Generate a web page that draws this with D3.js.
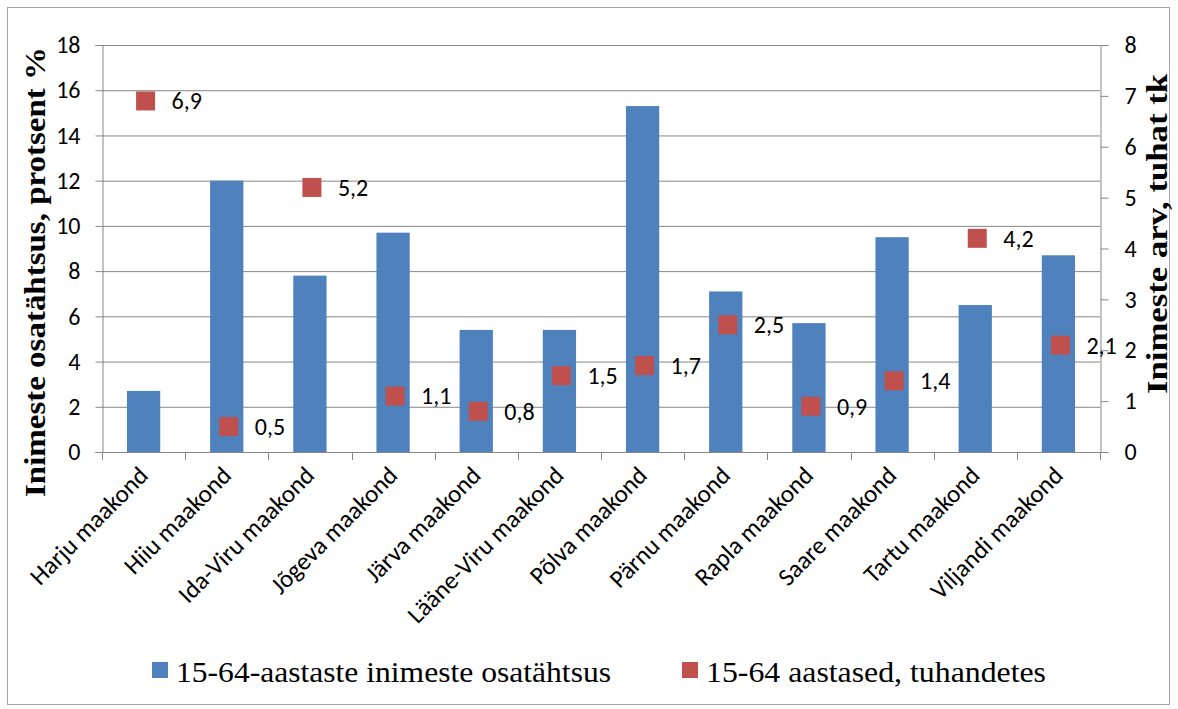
<!DOCTYPE html>
<html><head><meta charset="utf-8">
<script src="https://cdn.jsdelivr.net/npm/d3@7"></script>
<style>body{margin:0;background:#fff}</style>
</head><body>
<svg id="c" width="1178" height="709"></svg>
<script>
const categories = ["Harju maakond","Hiiu maakond","Ida-Viru maakond","Jõgeva maakond","Järva maakond","Lääne-Viru maakond","Põlva maakond","Pärnu maakond","Rapla maakond","Saare maakond","Tartu maakond","Viljandi maakond"];
const shareValues = [2.7,12.0,7.8,9.7,5.4,5.4,15.3,7.1,5.7,9.5,6.5,8.7];
const countValues = [6.9,0.5,5.2,1.1,0.8,1.5,1.7,2.5,0.9,1.4,4.2,2.1];
const leftTicks = [0,2,4,6,8,10,12,14,16,18];
const rightTicks = [0,1,2,3,4,5,6,7,8];
const seriesNames = ["15-64-aastaste inimeste osatähtsus","15-64 aastased, tuhandetes"];
const leftTitle = "Inimeste osatähtsus, protsent %";
const rightTitle = "Inimeste arv, tuhat tk";

const svg = d3.select("#c");
const L = 102, R = 1100, T = 45, B = 452;
const tickFont = "Carlito, Calibri, 'Open Sans', sans-serif";
const serif = "'Liberation Serif', 'Times New Roman', serif";
const gridCol = "#878787";
const fs = 24;

svg.append("rect").attr("x",7.5).attr("y",7.5).attr("width",1162).attr("height",697)
  .attr("fill","#fff").attr("stroke","#a6a6a6").attr("stroke-width",1);

const x = d3.scaleBand().domain(categories).range([L,R]).paddingInner(0.6).paddingOuter(0.3);
const xb = d3.scaleBand().domain(categories).range([L,R]);
const yL = d3.scaleLinear().domain([0,18]).range([B,T]);
const yR = d3.scaleLinear().domain([0,8]).range([B,T]);

// gridlines
svg.append("g").selectAll("line").data(leftTicks.filter(d=>d>0)).join("line")
  .attr("x1",L).attr("x2",R).attr("y1",d=>yL(d)+0.5).attr("y2",d=>yL(d)+0.5)
  .attr("stroke",gridCol).attr("stroke-width",1);

// bars
svg.append("g").selectAll("rect").data(categories).join("rect")
  .attr("x",(d)=>x(d)).attr("width",x.bandwidth())
  .attr("y",(d,i)=>yL(shareValues[i])).attr("height",(d,i)=>B-yL(shareValues[i]))
  .attr("fill","#4F81BD");

// axes
const axL = svg.append("g").attr("transform",`translate(${L+0.5},0)`)
  .call(d3.axisLeft(yL).tickValues(leftTicks).tickSize(7).tickPadding(15).tickFormat(d3.format("d")));
const axR = svg.append("g").attr("transform",`translate(${R+0.5},0)`)
  .call(d3.axisRight(yR).tickValues(rightTicks).tickSize(8).tickPadding(16).tickFormat(d3.format("d")));
const axB = svg.append("g").attr("transform",`translate(0,${B+0.5})`)
  .call(d3.axisBottom(xb).tickSize(0).tickFormat(""));
axB.select(".domain").attr("d",`M${L},0H${R}`);
svg.append("g").selectAll("line").data(d3.range(categories.length+1)).join("line")
  .attr("x1",i=>Math.round(L+i*xb.step())+0.5).attr("x2",i=>Math.round(L+i*xb.step())+0.5)
  .attr("y1",B).attr("y2",B+8).attr("stroke",gridCol);

[axL,axR,axB].forEach(a=>{
  a.selectAll(".domain").attr("stroke",gridCol);
  a.selectAll(".tick line").attr("stroke",gridCol);
  a.selectAll("text").attr("font-family",tickFont).attr("font-size",fs).attr("fill","#000");
});

// x labels
svg.append("g").selectAll("text").data(categories).join("text")
  .attr("transform",d=>`translate(${xb(d)+xb.bandwidth()/2+6},${B+25}) rotate(-45)`)
  .attr("text-anchor","end")
  .attr("font-family",tickFont).attr("font-size",25).text(d=>d);

// markers
const ms = 19;
svg.append("g").selectAll("rect").data(categories).join("rect")
  .attr("x",d=>xb(d)+xb.bandwidth()/2-ms/2+2).attr("y",(d,i)=>yR(countValues[i])-ms/2)
  .attr("width",ms).attr("height",ms).attr("fill","#C0504D");
svg.append("g").selectAll("text").data(categories).join("text")
  .attr("x",d=>xb(d)+xb.bandwidth()/2+28).attr("y",(d,i)=>yR(countValues[i]))
  .attr("dy","0.35em").attr("font-family",tickFont).attr("font-size",fs)
  .text((d,i)=>d3.format(".1f")(countValues[i]).replace(".",","));

// axis titles
svg.append("text").attr("transform",`translate(45,272) rotate(-90)`)
  .attr("text-anchor","middle").attr("font-family",serif)
  .attr("font-weight","bold").attr("font-size",29)
  .attr("textLength",450).attr("lengthAdjust","spacingAndGlyphs").text(leftTitle);
svg.append("text").attr("transform",`translate(1167,234) rotate(-90)`)
  .attr("text-anchor","middle").attr("font-family",serif)
  .attr("font-weight","bold").attr("font-size",29)
  .attr("textLength",320).attr("lengthAdjust","spacingAndGlyphs").text(rightTitle);

// legend
const leg = svg.append("g");
const legItems = [{x:152,c:"#4F81BD",w:435},{x:682,c:"#C0504D",w:340}];
legItems.forEach((it,i)=>{
  leg.append("rect").attr("x",it.x).attr("y",662).attr("width",16).attr("height",16).attr("fill",it.c);
  leg.append("text").attr("x",it.x+24).attr("y",682)
    .attr("font-family",serif).attr("font-size",30)
    .attr("textLength", it.w).attr("lengthAdjust","spacingAndGlyphs")
    .text(seriesNames[i]);
});
</script>
</body></html>
